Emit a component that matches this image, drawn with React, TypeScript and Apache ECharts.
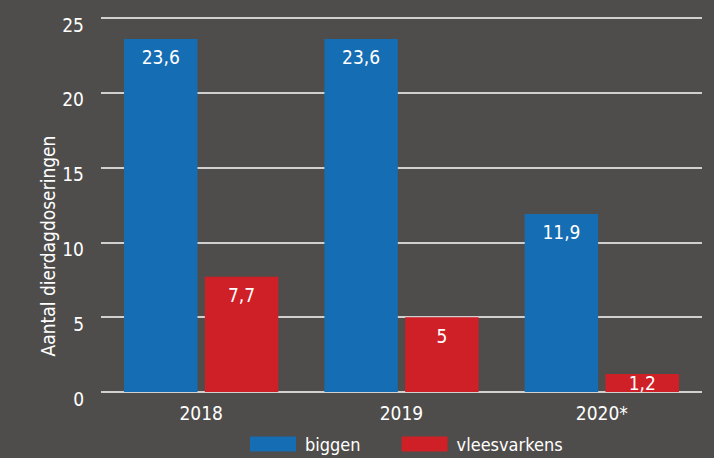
import React, { useEffect, useRef } from "react";
import * as echarts from "echarts";

const categories = ["2018", "2019", "2020*"];
const biggen = [23.6, 23.6, 11.9];
const vleesvarkens = [7.7, 5, 1.2];
const seriesNames = ["biggen", "vleesvarkens"];
const yAxisTitle = "Aantal dierdagdoseringen";

const FONT = "'DejaVu Sans Condensed', 'Roboto', sans-serif";

const fmt = (v: number) => String(v).replace(".", ",");

export default function App() {
  const ref = useRef<HTMLDivElement>(null);
  useEffect(() => {
    if (!ref.current) return;
    const chart = echarts.init(ref.current, null, { renderer: "svg" });
    const mkData = (arr: number[]) =>
      arr.map((v) => ({
        value: v,
        label: { position: v < 3 ? "inside" : "insideTop" },
      }));
    const labelCfg = {
      show: true,
      color: "#ffffff",
      fontFamily: FONT,
      fontSize: 19,
      distance: 9,
      formatter: (p: any) => fmt(p.value),
    };
    chart.setOption({
      animation: false,
      backgroundColor: "#4f4d4b",
      textStyle: { fontFamily: FONT },
      grid: { left: 101, right: 12, top: 18, bottom: 66 },
      legend: {
        top: 435,
        left: 250,
        padding: 0,
        itemWidth: 46,
        itemHeight: 15,
        itemGap: 41,
        icon: "rect",
        textStyle: {
          color: "#ffffff",
          fontSize: 18,
          lineHeight: 18,
          fontFamily: FONT,
          padding: [0, 0, 0, 4],
        },
        data: seriesNames,
      },
      xAxis: {
        type: "category",
        data: categories,
        axisLine: { show: false },
        axisTick: { show: false },
        axisLabel: { color: "#ffffff", fontSize: 19, fontFamily: FONT, margin: 11 },
      },
      yAxis: {
        type: "value",
        min: 0,
        max: 25,
        interval: 5,
        axisLine: { show: false },
        axisTick: { show: false },
        splitLine: { lineStyle: { color: "#d0d0d0", width: 2 } },
        axisLabel: {
          color: "#ffffff",
          fontSize: 19,
          fontFamily: FONT,
          margin: 17,
          verticalAlign: "top",
          lineHeight: 13,
        },
      },
      graphic: [
        {
          type: "text",
          x: 48,
          y: 246,
          rotation: Math.PI / 2,
          style: {
            text: yAxisTitle,
            fill: "#ffffff",
            font: `19px ${FONT}`,
            align: "center",
            verticalAlign: "middle",
          },
        },
      ],
      series: [
        {
          name: seriesNames[0],
          type: "bar",
          data: mkData(biggen),
          itemStyle: { color: "#156db3" },
          barGap: "10%",
          barCategoryGap: "23%",
          label: labelCfg,
        },
        {
          name: seriesNames[1],
          type: "bar",
          data: mkData(vleesvarkens),
          itemStyle: { color: "#d02027" },
          barGap: "10%",
          barCategoryGap: "23%",
          label: labelCfg,
        },
      ],
    });
    return () => chart.dispose();
  }, []);
  return <div ref={ref} style={{ width: 714, height: 458, position: "absolute", left: 0, top: 0 }} />;
}
